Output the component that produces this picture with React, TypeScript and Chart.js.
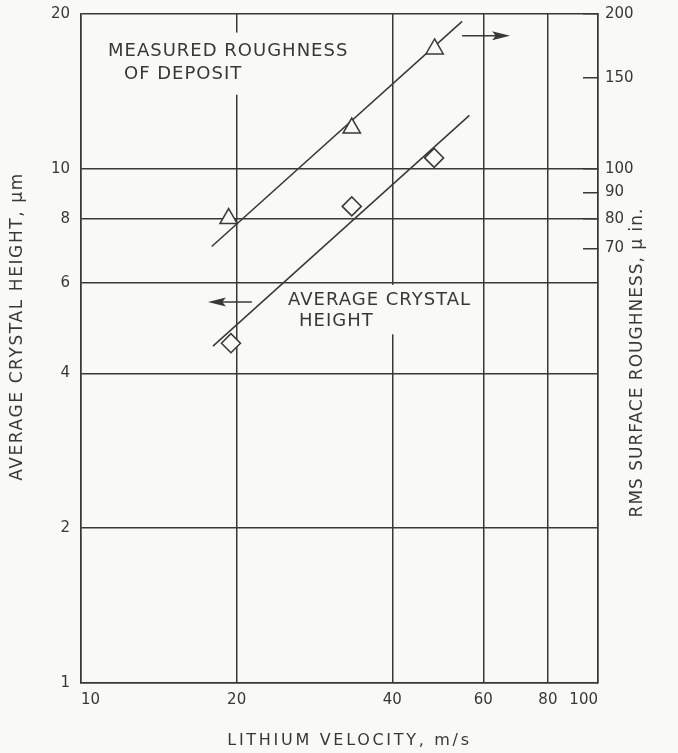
import React, { useEffect, useRef } from 'react';
import { Chart, registerables } from 'chart.js';

Chart.register(...registerables);

// ---------- data ----------
const xTicks = [10, 20, 40, 60, 80, 100];
const yLeftTicks = [1, 2, 4, 6, 8, 10, 20];
const yRightTicks = [70, 80, 90, 100, 150, 200];

// measured RMS surface roughness (right axis, μ in.)
const roughnessVelocity = [19.3, 33.4, 48.3];
const roughnessValues = [80, 120, 171];
// average crystal height (left axis, μm)
const heightVelocity = [19.5, 33.4, 48.2];
const heightValues = [4.58, 8.45, 10.5];

// fitted lines
const roughnessFitVelocity = [17.9, 54.6];
const roughnessFitValues = [70.6, 193.5];
const heightFitVelocity = [18.0, 56.4];
const heightFitValues = [4.52, 12.7];

const xTitle = 'LITHIUM VELOCITY, m/s';
const yLeftTitle = 'AVERAGE CRYSTAL HEIGHT, μm';
const yRightTitle = 'RMS SURFACE ROUGHNESS, μ in.';

// annotations (positions in data units: velocity, left-axis value)
const roughnessLabel = ['MEASURED ROUGHNESS', 'OF DEPOSIT'];
const roughnessLabelX = [11.28, 12.11];
const roughnessLabelY = [16.9, 15.24];
const heightLabel = ['AVERAGE CRYSTAL', 'HEIGHT'];
const heightLabelX = [25.15, 26.4];
const heightLabelY = [5.56, 5.05];
// arrows: [tail velocity, head velocity], value
const roughnessArrowX = [54.6, 67.6];
const roughnessArrowY = 181.5; // right axis
const heightArrowX = [21.4, 17.6];
const heightArrowY = 5.51; // left axis

// ---------- style ----------
const INK = '#383838';
const BG = '#f9f9f7';
const FAMILY = '"DejaVu Sans", sans-serif';

function drawBlock(ctx: any, lines: string[], xs: number[], ys: number[], sx: any, sy: any, padX: number, padTop: number, padBottom: number) {
  ctx.font = `18px ${FAMILY}`;
  ctx.letterSpacing = '1px';
  ctx.textBaseline = 'middle';
  ctx.textAlign = 'left';
  const pts = lines.map((t, i) => ({ t, px: sx.getPixelForValue(xs[i]), py: sy.getPixelForValue(ys[i]), w: ctx.measureText(t).width }));
  const left = Math.min(...pts.map(p => p.px)) - padX;
  const right = Math.max(...pts.map(p => p.px + p.w)) + padX;
  const top = Math.min(...pts.map(p => p.py)) - padTop;
  const bottom = Math.max(...pts.map(p => p.py)) + padBottom;
  ctx.fillStyle = BG;
  ctx.fillRect(left, top, right - left, bottom - top);
  ctx.fillStyle = INK;
  pts.forEach(p => ctx.fillText(p.t, p.px, p.py));
}

function drawArrow(ctx: any, xTail: number, xHead: number, y: number) {
  const dir = xHead > xTail ? 1 : -1;
  const headLen = 18;
  ctx.strokeStyle = INK;
  ctx.lineWidth = 1.5;
  ctx.beginPath();
  ctx.moveTo(xTail, y);
  ctx.lineTo(xHead - dir * headLen * 0.5, y);
  ctx.stroke();
  ctx.fillStyle = INK;
  ctx.beginPath();
  ctx.moveTo(xHead, y);
  ctx.lineTo(xHead - dir * headLen, y - 4.5);
  ctx.lineTo(xHead - dir * headLen * 0.8, y);
  ctx.lineTo(xHead - dir * headLen, y + 4.5);
  ctx.closePath();
  ctx.fill();
}

const overlay = {
  id: 'overlay',
  beforeDraw(chart: any) {
    const { ctx, width, height } = chart;
    ctx.save();
    ctx.fillStyle = BG;
    ctx.fillRect(0, 0, width, height);
    ctx.restore();
  },
  beforeDatasetsDraw(chart: any) {
    const { ctx, scales } = chart;
    const { x, y, y1 } = scales;
    ctx.save();
    drawBlock(ctx, roughnessLabel, roughnessLabelX, roughnessLabelY, x, y, 6, 19, 20);
    drawBlock(ctx, heightLabel, heightLabelX, heightLabelY, x, y, 4, 15, 13);
    drawArrow(ctx, x.getPixelForValue(roughnessArrowX[0]), x.getPixelForValue(roughnessArrowX[1]), y1.getPixelForValue(roughnessArrowY));
    drawArrow(ctx, x.getPixelForValue(heightArrowX[0]), x.getPixelForValue(heightArrowX[1]), y.getPixelForValue(heightArrowY));
    ctx.restore();
  },
  afterDraw(chart: any) {
    const { ctx, chartArea } = chart;
    ctx.save();
    ctx.fillStyle = INK;
    ctx.textAlign = 'center';
    ctx.textBaseline = 'middle';
    const cx = (chartArea.left + chartArea.right) / 2;
    const cy = (chartArea.top + chartArea.bottom) / 2;
    ctx.save();
    ctx.letterSpacing = '2.7px';
    ctx.font = `16px ${FAMILY}`;
    ctx.fillText(xTitle, cx + 10, chartArea.bottom + 58);
    ctx.restore();
    ctx.save();
    ctx.font = `17px ${FAMILY}`;
    ctx.letterSpacing = '1.6px';
    ctx.translate(chartArea.left - 63, cy - 22);
    ctx.rotate(-Math.PI / 2);
    ctx.fillText(yLeftTitle, 0, 0);
    ctx.restore();
    ctx.save();
    ctx.font = `17px ${FAMILY}`;
    ctx.letterSpacing = '1.0px';
    ctx.translate(chartArea.right + 40, cy + 14);
    ctx.rotate(-Math.PI / 2);
    ctx.fillText(yRightTitle, 0, 0);
    ctx.restore();
    ctx.restore();
  },
};

const tickFont = { family: FAMILY, size: 15 };

export default function App() {
  const ref = useRef<HTMLCanvasElement>(null);
  useEffect(() => {
    const chart = new Chart(ref.current as HTMLCanvasElement, {
      type: 'scatter',
      data: {
        datasets: [
          {
            label: 'Measured roughness of deposit',
            yAxisID: 'y1',
            data: roughnessVelocity.map((v, i) => ({ x: v, y: roughnessValues[i] })),
            showLine: false,
            pointStyle: 'triangle',
            pointRadius: 10,
            pointBorderWidth: 1.5,
            pointBorderColor: INK,
            pointBackgroundColor: BG,
          },
          {
            label: 'Average crystal height',
            yAxisID: 'y',
            data: heightVelocity.map((v, i) => ({ x: v, y: heightValues[i] })),
            showLine: false,
            pointStyle: 'rectRot',
            pointRadius: 9.5,
            pointBorderWidth: 1.5,
            pointBorderColor: INK,
            pointBackgroundColor: BG,
          },
          {
            label: 'Roughness fit',
            yAxisID: 'y1',
            data: roughnessFitVelocity.map((v, i) => ({ x: v, y: roughnessFitValues[i] })),
            showLine: true,
            borderColor: INK,
            borderWidth: 1.5,
            pointRadius: 0,
          },
          {
            label: 'Height fit',
            yAxisID: 'y',
            data: heightFitVelocity.map((v, i) => ({ x: v, y: heightFitValues[i] })),
            showLine: true,
            borderColor: INK,
            borderWidth: 1.5,
            pointRadius: 0,
          },
        ],
      },
      options: {
        responsive: false,
        animation: false,
        events: [],
        layout: { padding: { top: 14, left: 0, right: 0, bottom: 0 } },
        plugins: { legend: { display: false }, tooltip: { enabled: false } },
        scales: {
          x: {
            type: 'logarithmic',
            position: 'bottom',
            min: 10,
            max: 100,
            afterBuildTicks: (s: any) => { s.ticks = xTicks.map(v => ({ value: v })); },
            afterFit: (s: any) => { s.height = 70; s.paddingLeft = 0; s.paddingRight = 0; },
            ticks: { callback: (v: any) => String(v), autoSkip: false, maxRotation: 0, align: 'inner', padding: 8, color: INK, font: tickFont },
            grid: { color: INK, lineWidth: 1.5, drawTicks: false },
            border: { display: true, color: INK, width: 1.5 },
          },
          y: {
            type: 'logarithmic',
            position: 'left',
            min: 1,
            max: 20,
            afterBuildTicks: (s: any) => { s.ticks = yLeftTicks.map(v => ({ value: v })); },
            afterFit: (s: any) => { s.width = 81; s.paddingTop = 0; s.paddingBottom = 0; },
            ticks: { callback: (v: any) => String(v), autoSkip: false, padding: 11, color: INK, font: tickFont },
            grid: { color: INK, lineWidth: 1.5, drawTicks: false },
            border: { display: true, color: INK, width: 1.5 },
          },
          y1: {
            type: 'logarithmic',
            position: 'right',
            min: 10,
            max: 200,
            afterBuildTicks: (s: any) => { s.ticks = yRightTicks.map(v => ({ value: v })); },
            afterFit: (s: any) => { s.width = 80; s.paddingTop = 0; s.paddingBottom = 0; },
            ticks: { callback: (v: any) => String(v), autoSkip: false, padding: 22, color: INK, font: tickFont },
            grid: { drawOnChartArea: false, drawTicks: true, tickLength: -15, tickColor: INK, tickWidth: 1.5, color: INK, lineWidth: 1.5 },
            border: { display: true, color: INK, width: 1.5 },
          },
        },
      } as any,
      plugins: [overlay],
    });
    return () => chart.destroy();
  }, []);
  return (
    <div style={{ position: 'absolute', left: 0, top: 0, width: 678, height: 753, background: BG }}>
      <canvas ref={ref} width={678} height={753} style={{ display: 'block' }} />
    </div>
  );
}
